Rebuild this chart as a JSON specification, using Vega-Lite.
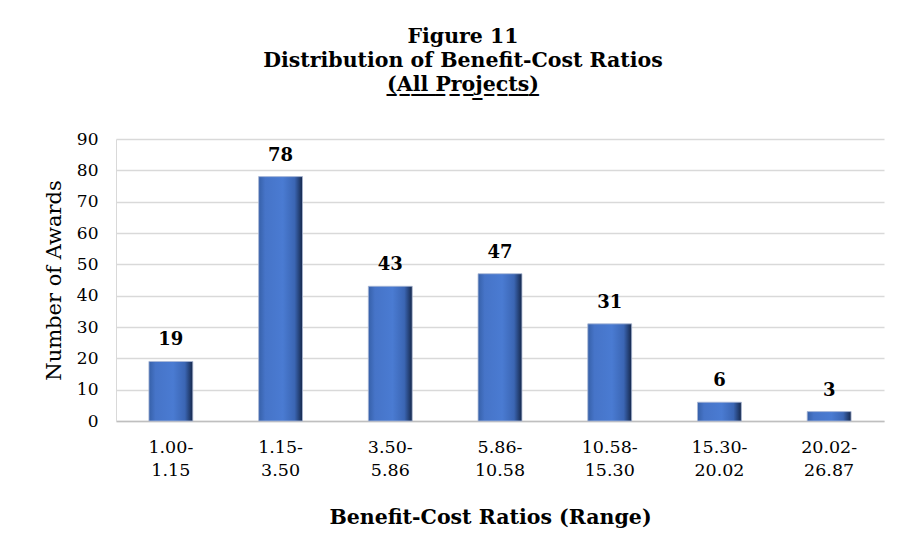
{
  "$schema": "https://vega.github.io/schema/vega-lite/v6.json",
  "autosize": "none",
  "width": 768,
  "height": 282,
  "padding": {"left": 116, "top": 139, "right": 17, "bottom": 125},
  "background": "white",
  "title": {
    "text": ["Figure 11", "Distribution of Benefit-Cost Ratios", "(\u0332A\u0332l\u0332l\u0332 \u0332P\u0332r\u0332o\u0332j\u0332e\u0332c\u0332t\u0332s\u0332)\u0332"],
    "font": "DejaVu Serif",
    "fontSize": 20.5,
    "fontWeight": "bold",
    "color": "#000000",
    "lineHeight": 24,
    "anchor": "middle",
    "dx": -37,
    "offset": 35
  },
  "data": {
    "values": [
      {"range": "1.00-|1.15", "awards": 19},
      {"range": "1.15-|3.50", "awards": 78},
      {"range": "3.50-|5.86", "awards": 43},
      {"range": "5.86-|10.58", "awards": 47},
      {"range": "10.58-|15.30", "awards": 31},
      {"range": "15.30-|20.02", "awards": 6},
      {"range": "20.02-|26.87", "awards": 3}
    ]
  },
  "encoding": {
    "x": {
      "field": "range",
      "type": "nominal",
      "sort": null,
      "scale": {"paddingInner": 0.6, "paddingOuter": 0.3},
      "axis": {
        "title": "Benefit-Cost Ratios (Range)",
        "titleFont": "DejaVu Serif",
        "titleFontSize": 20.5,
        "titleFontWeight": "bold",
        "titleColor": "#000000",
        "titlePadding": 29,
        "titleX": 374,
        "labelExpr": "split(datum.label, '|')",
        "labelAngle": 0,
        "labelFont": "DejaVu Serif",
        "labelFontSize": 17.5,
        "labelColor": "#000000",
        "labelLineHeight": 23,
        "labelPadding": 17,
        "ticks": false,
        "domainColor": "#bfbfbf",
        "domainWidth": 1.5
      }
    },
    "y": {
      "field": "awards",
      "type": "quantitative",
      "scale": {"domain": [0, 90]},
      "axis": {
        "title": "Number of Awards",
        "titleFont": "DejaVu Serif",
        "titleFontSize": 21,
        "titleFontWeight": "normal",
        "titleColor": "#000000",
        "titlePadding": 12,
        "values": [0, 10, 20, 30, 40, 50, 60, 70, 80, 90],
        "labelFont": "DejaVu Serif",
        "labelFontSize": 17,
        "labelColor": "#000000",
        "labelPadding": 18,
        "ticks": false,
        "domainColor": "#d9d9d9",
        "gridColor": "#d9d9d9",
        "gridWidth": 1.5
      }
    }
  },
  "layer": [
    {
      "mark": {
        "type": "bar",
        "color": {
          "gradient": "linear",
          "x1": 0, "x2": 1, "y1": 0, "y2": 0,
          "stops": [
            {"offset": 0, "color": "#3660a8"},
            {"offset": 0.15, "color": "#4674c8"},
            {"offset": 0.55, "color": "#4a7bd2"},
            {"offset": 0.82, "color": "#3b66b4"},
            {"offset": 1, "color": "#15274a"}
          ]
        },
        "stroke": "#a9b8d6",
        "strokeWidth": 0.8
      }
    },
    {
      "mark": {
        "type": "text",
        "font": "DejaVu Serif",
        "fontSize": 18,
        "fontWeight": "bold",
        "color": "#000000",
        "baseline": "middle",
        "dy": -21
      },
      "encoding": {"text": {"field": "awards", "type": "quantitative"}}
    }
  ],
  "config": {"view": {"stroke": null}}
}
